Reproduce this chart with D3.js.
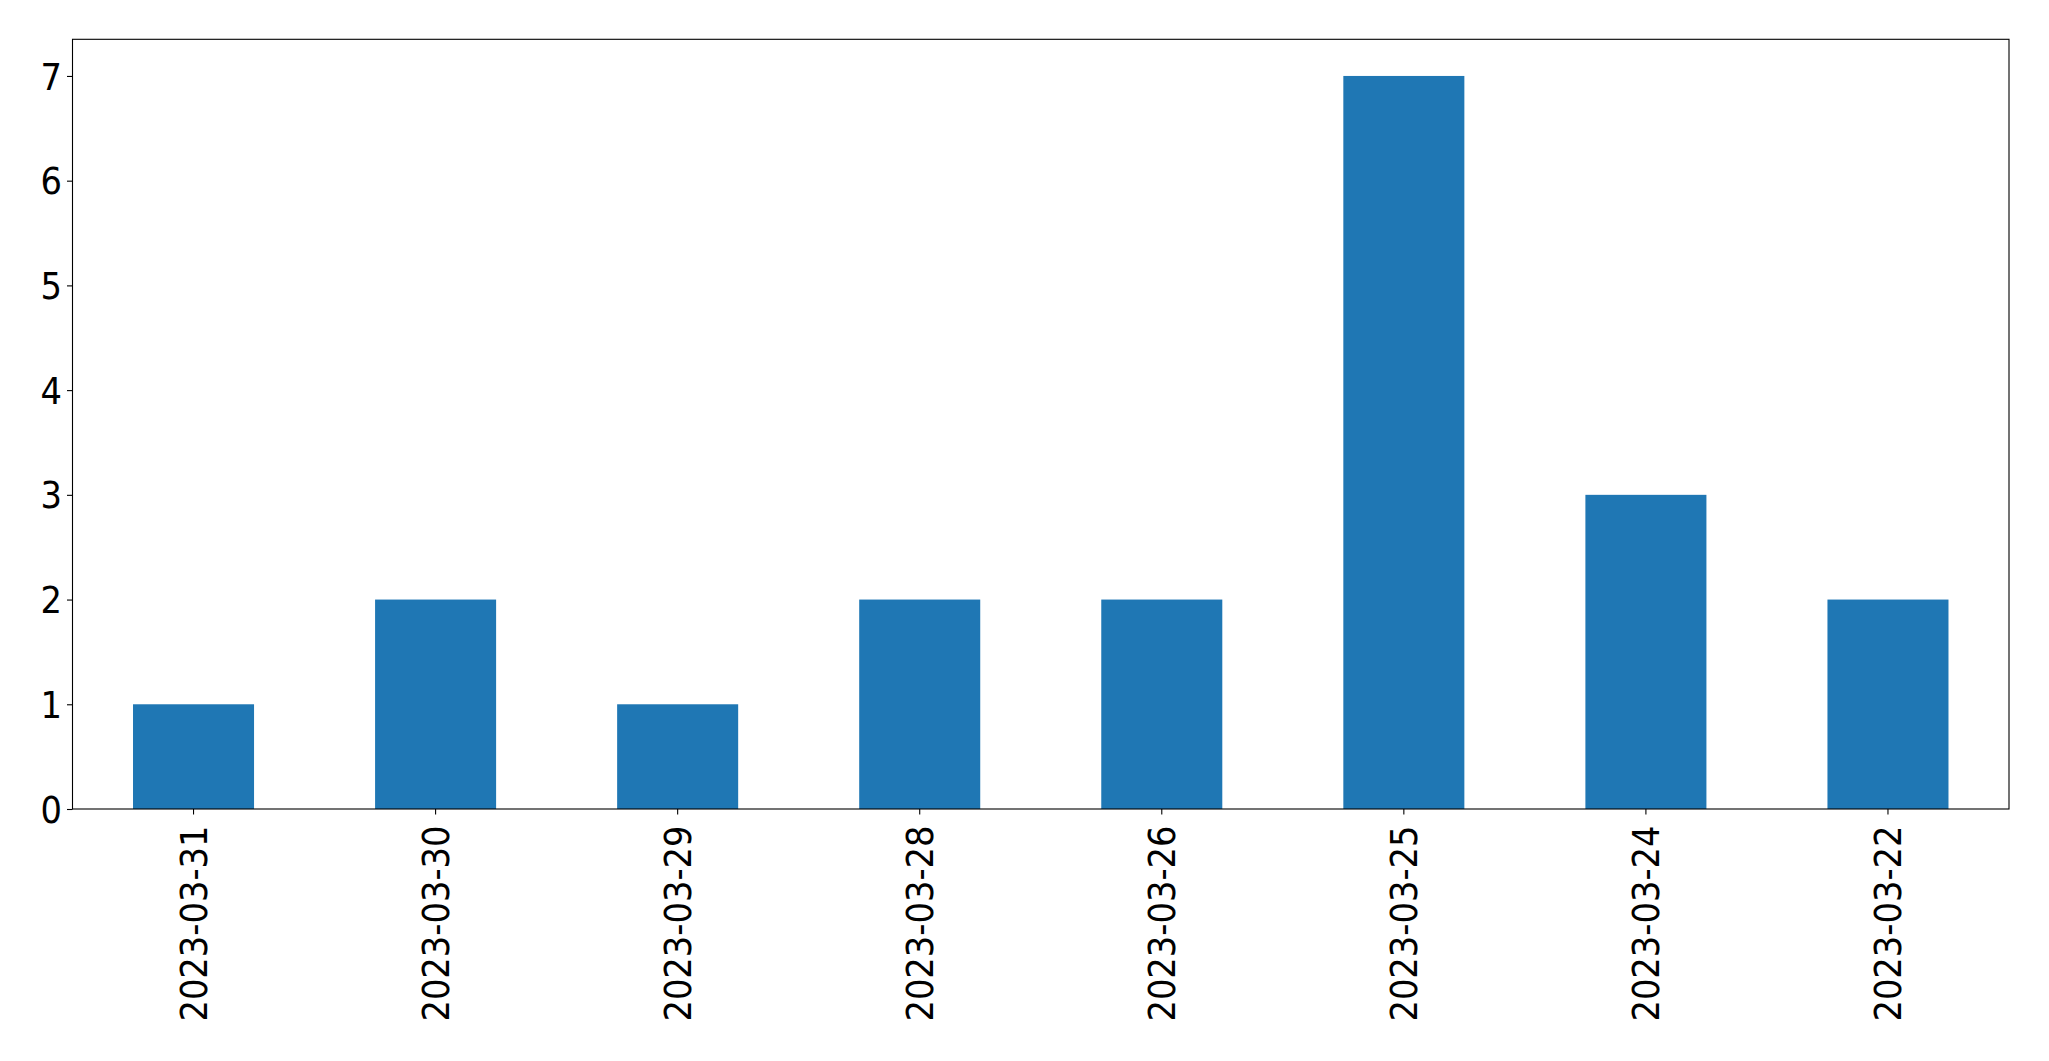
<!DOCTYPE html>
<html>
<head>
<meta charset="utf-8">
<script src="https://cdn.jsdelivr.net/npm/d3@7"></script>
<style>
  html, body { margin: 0; padding: 0; background: #fff; }
  svg { display: block; }
  text { font-family: "DejaVu Sans Condensed", "DejaVu Sans", sans-serif; fill: #000; }
</style>
</head>
<body>
<svg id="chart" width="2049" height="1061"></svg>
<script>
const categories = ["2023-03-31", "2023-03-30", "2023-03-29", "2023-03-28", "2023-03-26", "2023-03-25", "2023-03-24", "2023-03-22"];
const values = [1, 2, 1, 2, 2, 7, 3, 2];
const yTicks = [0, 1, 2, 3, 4, 5, 6, 7];

const mLeft = 72.5, mRight = 2009, mTop = 39.3, mBottom = 809;
const svg = d3.select("#chart");

const x = d3.scaleBand().domain(categories).range([mLeft, mRight]).paddingInner(0.5).paddingOuter(0.25);
const y = d3.scaleLinear().domain([0, d3.max(values) * 1.05]).range([mBottom, mTop]);

svg.append("g").selectAll("rect").data(values).join("rect")
  .attr("x", (d, i) => x(categories[i]))
  .attr("width", x.bandwidth())
  .attr("y", d => y(d))
  .attr("height", d => y(0) - y(d))
  .attr("fill", "#1f77b4");

const fs = "37.5px";
const tickLen = 5.5, pad = 5;

const yAxis = svg.append("g").attr("transform", `translate(${mLeft},0)`)
  .call(d3.axisLeft(y).tickValues(yTicks).tickFormat(d3.format("d")).tickSize(tickLen).tickPadding(pad));
yAxis.select(".domain").remove();
yAxis.selectAll(".tick line").attr("stroke", "#000").attr("stroke-width", 1.1);
yAxis.selectAll(".tick text").style("font-size", fs).attr("dy", "0.35em");

const xAxis = svg.append("g").attr("transform", `translate(0,${mBottom})`)
  .call(d3.axisBottom(x).tickSize(tickLen).tickPadding(pad));
xAxis.select(".domain").remove();
xAxis.selectAll(".tick line").attr("stroke", "#000").attr("stroke-width", 1.1);
xAxis.selectAll(".tick text")
  .style("font-size", fs)
  .attr("text-anchor", "end")
  .attr("transform", `translate(0,${tickLen + pad + 6}) rotate(-90)`)
  .attr("x", 0).attr("y", 0).attr("dy", "0.35em");

svg.append("rect")
  .attr("x", mLeft).attr("y", mTop)
  .attr("width", mRight - mLeft).attr("height", mBottom - mTop)
  .attr("fill", "none").attr("stroke", "#000").attr("stroke-width", 1.1);
</script>
</body>
</html>
